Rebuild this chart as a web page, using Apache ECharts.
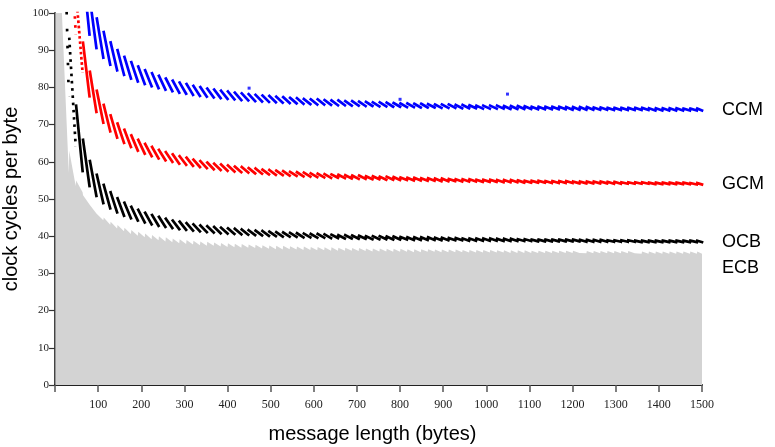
<!DOCTYPE html>
<html><head><meta charset="utf-8">
<script src="https://cdn.jsdelivr.net/npm/echarts@6/dist/echarts.min.js"></script>
<style>html,body{margin:0;padding:0;background:#fff}#c{width:775px;height:447px}</style>
</head><body><div id="c"></div>
<script>
// message length axis: 0..1500 bytes, 16-byte blocks
const BLOCK = 16;
const X_MAX = 1500;
const yTicks = [0,10,20,30,40,50,60,70,80,90,100];

// Values read per 16-byte block: value at first byte of block (peak) and at last byte (trough)
const ccmFirstBlock = 5;
const ccmPeak = [111.3,103.7,98.5,94.9,92.1,90.0,88.2,86.8,85.6,84.6,
  83.8,83.1,82.4,81.8,81.3,80.9,80.4,80.1,79.7,79.4,
  79.1,78.9,78.6,78.4,78.2,78.0,77.8,77.7,77.5,77.4,
  77.2,77.1,76.9,76.8,76.8,76.6,76.5,76.5,76.3,76.3,
  76.2,76.1,76.0,76.0,75.9,75.8,75.7,75.7,75.6,75.6,
  75.5,75.4,75.4,75.4,75.3,75.3,75.2,75.1,75.1,75.1,
  75.1,75.0,75.0,75.0,74.9,74.8,74.8,74.8,74.8,74.8,
  74.7,74.7,74.7,74.7,74.6,74.6,74.5,74.5,74.5,74.5,
  74.5,74.5,74.4,74.4,74.4,74.4,74.4,74.3,74.3,74.3];
const ccmTrough = [94.2,90.6,88.0,86.1,84.6,83.4,82.4,81.6,80.9,80.3,
  79.8,79.4,79.0,78.6,78.3,78.0,77.7,77.5,77.3,77.1,
  76.9,76.8,76.6,76.5,76.3,76.2,76.1,76.0,75.9,75.8,
  75.7,75.6,75.5,75.4,75.4,75.3,75.2,75.2,75.1,75.1,
  75.0,75.0,74.9,74.9,74.8,74.8,74.7,74.7,74.6,74.6,
  74.6,74.5,74.5,74.5,74.4,74.4,74.4,74.3,74.3,74.3,
  74.3,74.2,74.2,74.2,74.2,74.1,74.1,74.1,74.1,74.1,
  74.0,74.0,74.0,74.0,74.0,74.0,73.9,73.9,73.9,73.9,
  73.9,73.9,73.8,73.8,73.8,73.8,73.8,73.8,73.8,73.8];
const ccmOutliers = [[450,79.8],[800,76.8],[1049,78.2]];

const gcmFirstBlock = 3;
const gcmPeak = [130.3,105.0,92.0,84.2,79.1,75.3,72.5,70.3,68.6,67.1,
  65.9,64.8,64.0,63.2,62.6,62.0,61.5,61.1,60.6,60.2,
  59.8,59.5,59.3,59.0,58.7,58.6,58.3,58.2,57.9,57.8,
  57.6,57.5,57.3,57.2,57.1,56.9,56.8,56.7,56.6,56.5,
  56.4,56.3,56.3,56.1,56.1,56.0,56.0,55.9,55.8,55.7,
  55.7,55.6,55.6,55.5,55.5,55.4,55.3,55.3,55.3,55.2,
  55.2,55.2,55.1,55.1,55.1,55.0,54.9,54.9,54.9,54.8,
  54.8,54.8,54.8,54.7,54.7,54.7,54.7,54.7,54.6,54.6,
  54.5,54.5,54.5,54.5,54.4,54.4,54.4,54.4,54.4,54.4,
  54.3,54.3];
const gcmTrough = [94.3,83.9,77.6,73.4,70.5,68.2,66.5,65.1,64.0,63.0,
  62.2,61.5,60.9,60.4,60.0,59.5,59.2,58.9,58.6,58.3,
  58.0,57.8,57.6,57.4,57.2,57.1,56.9,56.8,56.6,56.5,
  56.4,56.3,56.2,56.1,56.0,55.9,55.8,55.7,55.7,55.6,
  55.5,55.4,55.4,55.3,55.3,55.2,55.2,55.1,55.1,55.0,
  55.0,54.9,54.9,54.8,54.8,54.8,54.7,54.7,54.7,54.6,
  54.6,54.6,54.5,54.5,54.5,54.4,54.4,54.4,54.4,54.3,
  54.3,54.3,54.3,54.2,54.2,54.2,54.2,54.2,54.1,54.1,
  54.1,54.1,54.1,54.1,54.0,54.0,54.0,54.0,54.0,54.0,
  53.9,53.9];

const ocbFirstBlock = 2;
const ocbPeak = [145.9,93.4,75.1,65.9,60.2,56.5,53.8,51.8,50.2,49.0,
  47.9,47.1,46.3,45.7,45.2,44.7,44.2,43.9,43.5,43.2,
  42.9,42.7,42.5,42.3,42.1,42.0,41.8,41.6,41.5,41.4,
  41.2,41.1,41.0,40.9,40.8,40.7,40.6,40.6,40.5,40.4,
  40.3,40.3,40.2,40.1,40.0,40.0,40.0,39.9,39.9,39.8,
  39.7,39.7,39.7,39.7,39.6,39.6,39.5,39.5,39.4,39.4,
  39.4,39.4,39.4,39.3,39.3,39.3,39.2,39.2,39.1,39.1,
  39.1,39.1,39.1,39.1,39.1,39.0,39.0,39.0,39.0,38.9,
  38.9,38.9,38.9,38.8,38.8,38.8,38.8,38.8,38.8,38.8,
  38.8,38.8,38.8];
const ocbTrough = [77.5,64.2,57.5,53.5,50.8,48.9,47.5,46.4,45.5,44.8,
  44.2,43.7,43.2,42.8,42.5,42.2,41.9,41.7,41.5,41.3,
  41.1,41.0,40.8,40.7,40.6,40.5,40.4,40.3,40.2,40.1,
  40.0,39.9,39.9,39.8,39.7,39.7,39.6,39.6,39.5,39.5,
  39.4,39.4,39.3,39.3,39.2,39.2,39.2,39.1,39.1,39.1,
  39.0,39.0,39.0,39.0,38.9,38.9,38.9,38.9,38.8,38.8,
  38.8,38.8,38.8,38.7,38.7,38.7,38.7,38.7,38.6,38.6,
  38.6,38.6,38.6,38.6,38.6,38.5,38.5,38.5,38.5,38.5,
  38.5,38.5,38.5,38.4,38.4,38.4,38.4,38.4,38.4,38.4,
  38.4,38.4,38.4];

const ecbFirstBlock = 1;
const ecbPeak = [200,100,63.0,55.0,51.0,48.3,46.4,45.0,43.9,43.0,
  42.3,41.7,41.2,40.7,40.3,40.0,39.7,39.4,39.2,39.0,
  38.8,38.6,38.5,38.3,38.2,38.1,38.0,37.9,37.8,37.7,
  37.6,37.5,37.4,37.4,37.3,37.2,37.2,37.1,37.1,37.0,
  37.0,36.9,36.9,36.8,36.8,36.7,36.7,36.7,36.6,36.6,
  36.6,36.5,36.5,36.5,36.5,36.4,36.4,36.4,36.4,36.3,
  36.3,36.3,36.3,36.3,36.2,36.2,36.2,36.2,36.2,36.1,
  36.1,36.1,36.1,36.1,36.1,36.1,36.0,36.0,36.0,36.0,
  36.0,36.0,36.0,36.0,35.9,35.9,35.9,35.9,35.9,35.9,
  35.9,35.9,35.9,35.9];
const ecbTrough = [100,57.0,53.5,51.8,48.5,46.1,44.3,43.1,42.1,41.3,
  40.6,40.1,39.7,39.2,38.9,38.6,38.4,38.1,37.9,37.8,
  37.6,37.4,37.4,37.2,37.1,37.0,36.9,36.9,36.8,36.7,
  36.6,36.5,36.4,36.5,36.4,36.3,36.3,36.2,36.2,36.1,
  36.1,36.1,36.1,36.0,36.0,35.9,35.9,35.9,35.8,35.8,
  35.8,35.7,35.7,35.8,35.8,35.7,35.7,35.7,35.7,35.6,
  35.6,35.6,35.6,35.6,35.6,35.5,35.5,35.5,35.5,35.5,
  35.5,35.5,35.5,35.5,35.5,35.5,35.4,35.4,35.4,35.4,
  35.4,35.4,35.4,35.4,35.3,35.3,35.3,35.3,35.3,35.3,
  35.3,35.3,35.3,35.3];

// plot geometry used only for dot spacing of very steep streaks
const PX_PER_UNIT = 372 / 100;
const STEEP = 20;

function blockRange(k) {
  return [BLOCK * (k - 1) + 1, Math.min(BLOCK * k, X_MAX)];
}
function blockPoints(first, peaks, troughs, breaks, keep) {
  const d = [];
  peaks.forEach((p, i) => {
    if (keep && !keep(i)) return;
    const [x0, x1] = blockRange(first + i);
    if (breaks && d.length) d.push([x0, '-']);
    d.push([x0, p], [x1, troughs[i]]);
  });
  return d;
}

const labelStyle = {fontFamily: 'Liberation Sans, Arial, sans-serif', fontSize: 18, color: '#000'};
function streakSeries(name, color, first, peaks, troughs) {
  const out = [{
    name, type: 'line',
    data: blockPoints(first, peaks, troughs, true, i => peaks[i] - troughs[i] <= STEEP),
    showSymbol: false, connectNulls: false, clip: true, z: 3,
    lineStyle: {color, width: 2.7, cap: 'square'},
    endLabel: Object.assign({show: true, formatter: name, distance: 20}, labelStyle)
  }];
  // very steep blocks: individual dots separate visibly
  peaks.forEach((p, i) => {
    const drop = p - troughs[i];
    if (drop <= STEEP) return;
    const step = drop * PX_PER_UNIT / 15;
    out.push({
      name: name + ' b' + (first + i), type: 'line',
      data: blockPoints(first + i, [p], [troughs[i]], false),
      showSymbol: false, clip: true, z: 3, silent: true,
      lineStyle: {color, width: 2.7, type: [2.6, Math.max(step - 2.6, 0.5)], cap: 'butt'}
    });
  });
  return out;
}

const chart = echarts.init(document.getElementById('c'), null, {renderer: 'canvas'});
chart.setOption({
  animation: false,
  backgroundColor: '#fff',
  grid: {left: 55, right: 73, top: 13, bottom: 62, containLabel: false, outerBoundsMode: 'none'},
  xAxis: {
    type: 'value', min: 0, max: X_MAX, interval: 100,
    axisLine: {lineStyle: {color: '#222', width: 2}},
    axisTick: {length: 7, lineStyle: {color: '#555', width: 1.5}},
    axisLabel: {formatter: v => v === 0 ? '' : String(v), fontFamily: 'Liberation Serif, Times New Roman, serif', fontSize: 12, color: '#222', margin: 14},
    splitLine: {show: false},
    name: 'message length (bytes)', nameLocation: 'middle', nameGap: 39,
    nameTextStyle: {fontFamily: 'Liberation Sans, Arial, sans-serif', fontSize: 20, color: '#000', padding: [0, 12, 0, 0]}
  },
  yAxis: {
    type: 'value', min: yTicks[0], max: yTicks[yTicks.length - 1], interval: 10,
    axisLine: {show: true, lineStyle: {color: '#444', width: 2}},
    axisTick: {show: true, length: 6, lineStyle: {color: '#333', width: 1.2}},
    axisLabel: {fontFamily: 'Liberation Serif, Times New Roman, serif', fontSize: 11, color: '#222', margin: 6},
    splitLine: {show: false},
    name: 'clock cycles per byte', nameLocation: 'middle', nameGap: 27,
    nameTextStyle: {fontFamily: 'Liberation Sans, Arial, sans-serif', fontSize: 20, color: '#000'}
  },
  series: [
    {
      name: 'ECB', type: 'line', data: blockPoints(ecbFirstBlock, ecbPeak, ecbTrough, false),
      showSymbol: false, clip: true, z: 1,
      lineStyle: {width: 0, color: '#d3d3d3'},
      areaStyle: {color: '#d3d3d3', opacity: 1},
      endLabel: Object.assign({show: true, formatter: 'ECB', distance: 20, offset: [0, 14]}, labelStyle)
    },
    ...streakSeries('OCB', '#000000', ocbFirstBlock, ocbPeak, ocbTrough),
    ...streakSeries('GCM', '#ff0000', gcmFirstBlock, gcmPeak, gcmTrough),
    ...streakSeries('CCM', '#0000ff', ccmFirstBlock, ccmPeak, ccmTrough),
    {
      name: 'CCM outliers', type: 'scatter', data: ccmOutliers, symbol: 'rect', symbolSize: 3,
      itemStyle: {color: '#0000ff'}, z: 4
    }
  ]
});
</script>
</body></html>
